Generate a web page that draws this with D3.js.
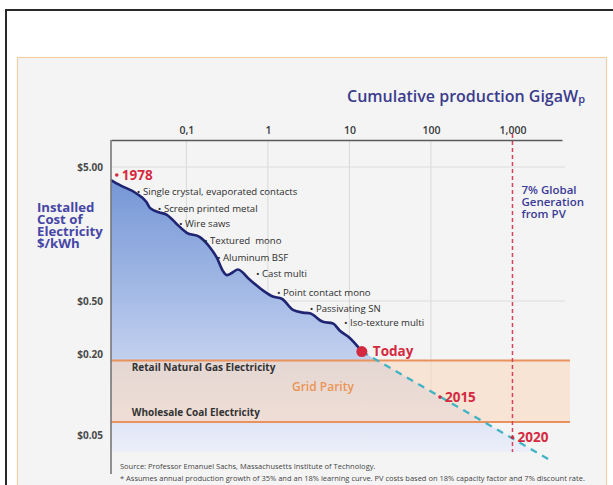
<!DOCTYPE html>
<html>
<head>
<meta charset="utf-8">
<script src="https://cdn.jsdelivr.net/npm/d3@7"></script>
<style>
  body { margin: 0; background: #fff; }
  svg { display: block; }
  text { font-family: 'Open Sans', 'Liberation Sans', sans-serif; }
</style>
</head>
<body>
<svg id="viz" width="613" height="485"></svg>
<script>
// PV learning curve: cumulative production (GWp) vs installed cost ($/kWh)
const curveGW = [0.0119, 0.0155, 0.0239, 0.0322, 0.0357, 0.046, 0.0577, 0.076, 0.1, 0.1465, 0.194,
  0.237, 0.28, 0.314, 0.372, 0.428, 0.601, 0.868, 1.15, 1.48, 2.03, 2.69, 3.27, 4.73, 6.28, 7.64,
  10.1, 14.2];
const curveCost = [4.0, 3.65, 3.2, 2.75, 2.48, 2.3, 2.2, 1.88, 1.62, 1.50, 1.26,
  1.05, 0.84, 0.78, 0.82, 0.86, 0.72, 0.60, 0.54, 0.52, 0.43, 0.41, 0.405, 0.35, 0.34, 0.30,
  0.265, 0.21];

// projected path after today
const projGW = [14.2, 2880];
const projCost = [0.21, 0.0326];

// milestones
const milestoneLabels = ['1978', 'Today', '2015', '2020'];
const milestoneGW = [0.014, 14.2, 129, 1000];
const milestoneCost = [4.36, 0.21, 0.096, 0.048];

// technology steps along the curve
const techLabels = ['Single crystal, evaporated contacts', 'Screen printed metal', 'Wire saws',
  'Textured  mono', 'Aluminum BSF', 'Cast multi', 'Point contact mono', 'Passivating SN',
  'Iso-texture multi'];
const techGW = [0.0247, 0.0447, 0.081, 0.164, 0.237, 0.713, 1.29, 3.27, 8.57];
const techCost = [3.26, 2.43, 1.88, 1.40, 1.05, 0.80, 0.58, 0.44, 0.343];

// grid parity band
const retailGas = 0.18;
const wholesaleCoal = 0.0625;

// axes
const xTicks = [0.1, 1, 10, 100, 1000];
const xTickLabels = ['0,1', '1', '10', '100', '1,000'];
const yTicks = [5, 0.5, 0.2, 0.05];
const yTickLabels = ['$5.00', '$0.50', '$0.20', '$0.05'];
const xGrid = [0.1, 1, 10, 100];
const yGrid = [5, 0.5];
const pvTarget = 1000;

const svg = d3.select('#viz');

// outer frame and slide
svg.append('rect')
  .attr('x', 6).attr('y', 10).attr('width', 640).attr('height', 500)
  .attr('fill', '#fff').attr('stroke', '#2a2a2a').attr('stroke-width', 2);
svg.append('rect')
  .attr('x', 17.5).attr('y', 57.5).attr('width', 589).attr('height', 460)
  .attr('fill', '#f4f4f4').attr('stroke', '#f2cfa6').attr('stroke-width', 1.2);

const x = d3.scaleLog().domain([0.0119, 4050]).range([111, 562]);
const y = d3.scaleLog().domain([7.95, 0.0374]).range([140, 452]);
const bottom = y.range()[1];

const defs = svg.append('defs');
const grad = defs.append('linearGradient')
  .attr('id', 'fillGrad')
  .attr('gradientUnits', 'userSpaceOnUse')
  .attr('x1', 0).attr('x2', 0).attr('y1', 175).attr('y2', bottom);
grad.append('stop').attr('offset', '0%').attr('stop-color', '#7395d5');
grad.append('stop').attr('offset', '45%').attr('stop-color', '#a7bce7');
grad.append('stop').attr('offset', '100%').attr('stop-color', '#eceff9');

defs.append('clipPath').attr('id', 'plotClip')
  .append('rect')
  .attr('x', x.range()[0]).attr('y', y.range()[0])
  .attr('width', x.range()[1] - x.range()[0])
  .attr('height', bottom - y.range()[0]);

const curvePts = d3.zip(curveGW, curveCost);
const projPts = d3.zip(projGW, projCost);

// gridlines
svg.append('g')
  .selectAll('line')
  .data(xGrid)
  .join('line')
  .attr('x1', (d) => x(d)).attr('x2', (d) => x(d))
  .attr('y1', y.range()[0]).attr('y2', bottom)
  .attr('stroke', '#d9d9d9').attr('stroke-width', 1);
svg.append('g')
  .selectAll('line')
  .data(yGrid)
  .join('line')
  .attr('x1', x.range()[0]).attr('x2', x.range()[1] + 3)
  .attr('y1', (d) => y(d)).attr('y2', (d) => y(d))
  .attr('stroke', '#dcdcdc').attr('stroke-width', 1);

// area under curve and projection
const fillG = svg.append('g').attr('clip-path', 'url(#plotClip)');
fillG.append('path')
  .datum(curvePts)
  .attr('fill', 'url(#fillGrad)')
  .attr('d', d3.area().x((d) => x(d[0])).y0(bottom).y1((d) => y(d[1])).curve(d3.curveMonotoneX));
fillG.append('path')
  .datum(projPts)
  .attr('fill', 'url(#fillGrad)')
  .attr('d', d3.area().x((d) => x(d[0])).y0(bottom + 20).y1((d) => y(d[1])));

// grid parity band
svg.append('rect')
  .attr('x', x.range()[0]).attr('y', y(retailGas))
  .attr('width', x.range()[1] + 8 - x.range()[0])
  .attr('height', y(wholesaleCoal) - y(retailGas))
  .attr('fill', '#f8dac2').attr('opacity', 0.62);
svg.append('g')
  .selectAll('line')
  .data([retailGas, wholesaleCoal])
  .join('line')
  .attr('x1', x.range()[0]).attr('x2', x.range()[1] + 8)
  .attr('y1', (d) => y(d)).attr('y2', (d) => y(d))
  .attr('stroke', '#e9925e').attr('stroke-width', 2);

// 7% target line
svg.append('line')
  .attr('x1', x(pvTarget)).attr('x2', x(pvTarget))
  .attr('y1', y.range()[0] - 6).attr('y2', bottom)
  .attr('stroke', '#d4445a').attr('stroke-width', 1.5)
  .attr('stroke-dasharray', '4,3');

// projection dashed line
svg.append('path')
  .datum(projPts)
  .attr('fill', 'none')
  .attr('stroke', '#40b2c4').attr('stroke-width', 2.2)
  .attr('stroke-dasharray', '7,6')
  .attr('d', d3.line().x((d) => x(d[0])).y((d) => y(d[1])));

// cost curve
svg.append('path')
  .datum(curvePts)
  .attr('fill', 'none')
  .attr('stroke', '#1f2473').attr('stroke-width', 2.6)
  .attr('stroke-linejoin', 'round')
  .attr('d', d3.line().x((d) => x(d[0])).y((d) => y(d[1])).curve(d3.curveMonotoneX));

// axes
const xAxis = svg.append('g')
  .attr('transform', `translate(0,${y.range()[0]})`)
  .call(d3.axisTop(x).tickValues(xTicks).tickSize(0).tickPadding(6)
    .tickFormat((d, i) => xTickLabels[i]));
xAxis.select('.domain').attr('stroke', '#5a5a5a').attr('stroke-width', 1.6);
xAxis.selectAll('text')
  .attr('font-size', 10.5).attr('font-weight', 600).attr('fill', '#3a3a3a')
  .style('font-family', "'Open Sans', sans-serif");

const yAxis = svg.append('g')
  .attr('transform', `translate(${x.range()[0]},0)`)
  .call(d3.axisLeft(y).tickValues(yTicks).tickSize(0).tickPadding(8)
    .tickFormat((d, i) => yTickLabels[i]));
yAxis.select('.domain').remove();
yAxis.selectAll('text')
  .attr('font-size', 10).attr('font-weight', 700).attr('fill', '#4a4a4a')
  .style('font-family', "'Open Sans', sans-serif");
svg.append('line')
  .attr('x1', x.range()[0]).attr('x2', x.range()[0])
  .attr('y1', y.range()[0]).attr('y2', 474)
  .attr('stroke', '#777').attr('stroke-width', 1.6);

// technology annotations
svg.append('g')
  .selectAll('text')
  .data(techLabels)
  .join('text')
  .attr('x', (d, i) => x(techGW[i]))
  .attr('y', (d, i) => y(techCost[i]))
  .attr('dy', '0.35em')
  .attr('font-size', 9.6)
  .attr('fill', '#2e2e2e')
  .style('white-space', 'pre')
  .style('font-family', "'Liberation Sans Narrow', 'Open Sans', sans-serif")
  .text((d) => '\u2022 ' + d);

// milestone dots and labels
const ms = svg.append('g');
ms.selectAll('circle')
  .data(milestoneLabels)
  .join('circle')
  .attr('cx', (d, i) => x(milestoneGW[i]))
  .attr('cy', (d, i) => y(milestoneCost[i]))
  .attr('r', (d) => (d === 'Today' ? 5.5 : 1.8))
  .attr('fill', '#d42a40');
ms.selectAll('text')
  .data(milestoneLabels)
  .join('text')
  .attr('x', (d, i) => x(milestoneGW[i]) + (d === 'Today' ? 11 : 5))
  .attr('y', (d, i) => y(milestoneCost[i]))
  .attr('dy', '0.36em')
  .attr('font-size', 13.5).attr('font-weight', 700)
  .attr('fill', '#d42a40')
  .text((d) => d);

// band labels
svg.append('text')
  .attr('x', x(0.0214)).attr('y', y(0.161)).attr('dy', '0.35em')
  .attr('font-size', 10).attr('font-weight', 700).attr('fill', '#333')
  .text('Retail Natural Gas Electricity');
svg.append('text')
  .attr('x', x(0.0214)).attr('y', y(0.0743)).attr('dy', '0.35em')
  .attr('font-size', 10).attr('font-weight', 700).attr('fill', '#333')
  .text('Wholesale Coal Electricity');
svg.append('text')
  .attr('x', x(4.73)).attr('y', y(0.114)).attr('dy', '0.35em')
  .attr('text-anchor', 'middle')
  .attr('font-size', 12).attr('font-weight', 600).attr('fill', '#ec9555')
  .text('Grid Parity');

// 7% global generation note
const note = svg.append('text')
  .attr('x', x(pvTarget) + 9).attr('y', y(3.36))
  .attr('font-size', 11.5).attr('font-weight', 600).attr('fill', '#3b3b96');
['7% Global', 'Generation', 'from PV'].forEach((t, i) => {
  note.append('tspan').attr('x', x(pvTarget) + 9).attr('dy', i === 0 ? '0.35em' : 12).text(t);
});

// y title
const yTitle = svg.append('text')
  .attr('x', 37).attr('y', 207)
  .attr('font-size', 13.2).attr('font-weight', 700).attr('fill', '#4646a6');
['Installed', 'Cost of', 'Electricity', '$/kWh'].forEach((t, i) => {
  yTitle.append('tspan').attr('x', 37).attr('dy', i === 0 ? '0.35em' : 12.2).text(t);
});

// top title
const title = svg.append('text')
  .attr('x', 585).attr('y', 102)
  .attr('text-anchor', 'end')
  .attr('font-size', 16).attr('font-weight', 600).attr('fill', '#3b3b8c');
title.append('tspan').text('Cumulative production GigaW');
title.append('tspan').attr('font-size', 11).attr('dy', 1).text('p');

// source notes
svg.append('text')
  .attr('x', 120).attr('y', 469)
  .attr('font-size', 7.5).attr('fill', '#444')
  .text('Source: Professor Emanuel Sachs, Massachusetts Institute of Technology.');
svg.append('text')
  .attr('x', 120).attr('y', 481)
  .attr('font-size', 7.5).attr('fill', '#444')
  .text('* Assumes annual production growth of 35% and an 18% learning curve. PV costs based on 18% capacity factor and 7% discount rate.');
</script>
</body>
</html>
